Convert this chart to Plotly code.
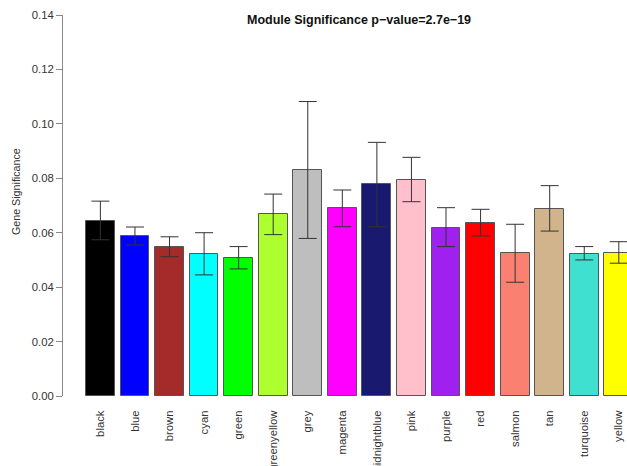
import plotly.graph_objects as go

modules = ["black", "blue", "brown", "cyan", "green", "greenyellow", "grey", "magenta",
           "midnightblue", "pink", "purple", "red", "salmon", "tan", "turquoise", "yellow"]
bar_colors = ["#000000", "#0000FF", "#A52A2A", "#00FFFF", "#00FF00", "#ADFF2F", "#BEBEBE", "#FF00FF",
              "#191970", "#FFC0CB", "#A020F0", "#FF0000", "#FA8072", "#D2B48C", "#40E0D0", "#FFFF00"]
gene_significance = [0.0644, 0.0588, 0.0549, 0.0522, 0.0506, 0.0668, 0.0830, 0.0690,
                     0.0778, 0.0794, 0.0618, 0.0635, 0.0524, 0.0687, 0.0522, 0.0527]
err_upper = [0.0072, 0.0033, 0.0036, 0.0078, 0.0043, 0.0074, 0.0252, 0.0067,
             0.0154, 0.0083, 0.0074, 0.0051, 0.0107, 0.0086, 0.0027, 0.0040]
err_lower = [0.0070, 0.0033, 0.0037, 0.0077, 0.0039, 0.0075, 0.0251, 0.0068,
             0.0156, 0.0080, 0.0069, 0.0047, 0.0106, 0.0081, 0.0022, 0.0039]
title_text = "Module Significance p\u2212value=2.7e\u221219"
y_title = "Gene Significance"
y_ticks = [0.00, 0.02, 0.04, 0.06, 0.08, 0.10, 0.12, 0.14]

xpos = list(range(len(modules)))

fig = go.Figure()
fig.add_trace(go.Bar(
    x=xpos, y=gene_significance, width=1 / 1.2,
    marker=dict(color=bar_colors, line=dict(color="#555555", width=1)),
    error_y=dict(type="data", symmetric=False, array=err_upper, arrayminus=err_lower,
                 color="#333333", thickness=1, width=9),
    showlegend=False,
))

fig.update_layout(
    width=627, height=466,
    margin=dict(l=63, r=0, t=15, b=70),
    plot_bgcolor="white", paper_bgcolor="white",
    font=dict(family="Liberation Sans, Arial, sans-serif", color="#333333", size=10),
    bargap=0,
    xaxis=dict(
        range=[-1.082, 15.237], automargin=False,
        tickmode="array", tickvals=xpos, ticktext=modules, tickangle=-90,
        ticks="outside", ticklen=9, tickcolor="rgba(0,0,0,0)",
        showline=False, showgrid=False, zeroline=False,
        tickfont=dict(size=11.3, color="#333333"),
    ),
    yaxis=dict(
        range=[0, 0.14], automargin=False,
        tickmode="array", tickvals=y_ticks, ticktext=[f"{v:.2f}" for v in y_ticks],
        ticks="outside", ticklen=6, tickcolor="#888888",
        showline=True, linecolor="#888888", linewidth=1,
        showgrid=False, zeroline=False,
        tickfont=dict(size=11.3, color="#333333"),
    ),
    annotations=[
        dict(
            text="<b>" + title_text + "</b>", xref="paper", yref="paper",
            x=(359 - 63) / 564, y=1 - (20 - 15) / 381, xanchor="center", yanchor="middle",
            showarrow=False, font=dict(size=12.5, color="#111111"),
        ),
        dict(
            text=y_title, xref="paper", yref="paper",
            x=(16 - 63) / 564, y=(396 - 192) / 381, xanchor="center", yanchor="middle",
            textangle=-90, showarrow=False, font=dict(size=10.7, color="#333333"),
        ),
    ],
)

fig.write_html("out.html")
